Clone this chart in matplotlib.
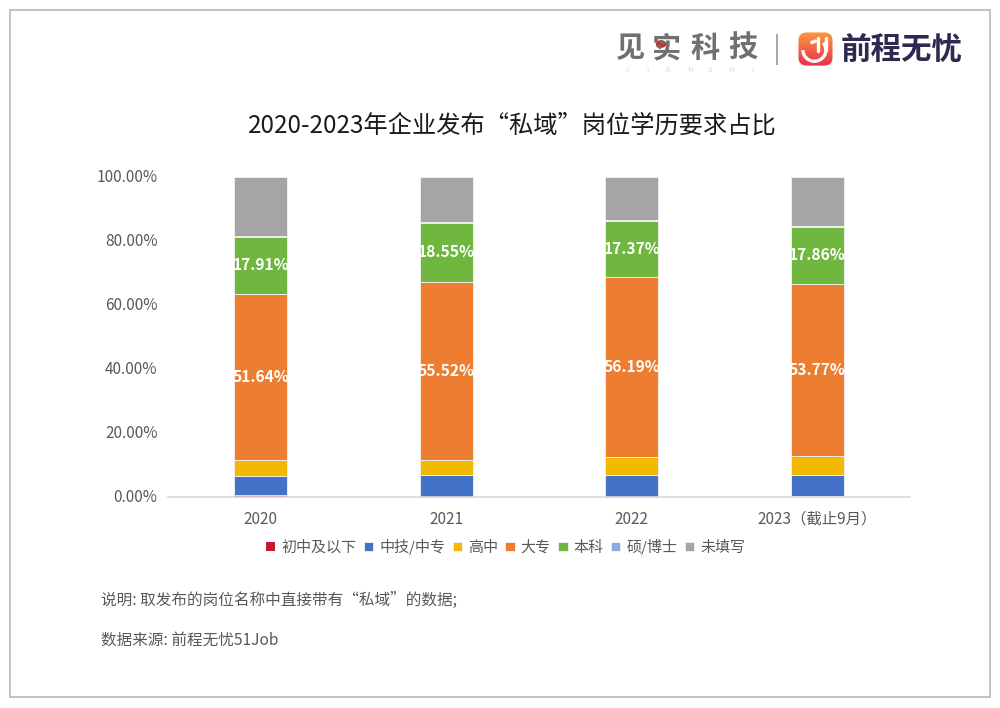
import matplotlib
matplotlib.use('Agg')
import matplotlib.pyplot as plt
import numpy as np
from matplotlib.patches import Rectangle, FancyBboxPatch, Arc, Circle
from matplotlib.ticker import PercentFormatter
from matplotlib.transforms import ScaledTranslation

plt.rcParams['font.family'] = ['Noto Sans CJK SC', 'DejaVu Sans']

years = ['2020', '2021', '2022', '2023（截止9月）']
levels = ['初中及以下', '中技/中专', '高中', '大专', '本科', '硕/博士', '未填写']
colors = ['#C5182C', '#4472C8', '#F2B900', '#ED7D31', '#70B73F', '#8FAADC', '#A5A5A5']

junior = [0.60, 0.15, 0.10, 0.40]
technical = [6.00, 6.70, 6.90, 6.40]
senior = [5.10, 4.70, 5.50, 5.90]
college = [51.64, 55.52, 56.19, 53.77]
bachelor = [17.91, 18.55, 17.37, 17.86]
master = [0.30, 0.30, 0.30, 0.30]
unfilled = [18.45, 13.88, 13.64, 15.37]
series = [junior, technical, senior, college, bachelor, master, unfilled]
labelled = [college, bachelor]

fig = plt.figure(figsize=(10, 7.08), dpi=100)
fig.patch.set_facecolor('white')


def px(x, y):
    # pixel position measured from the top left corner of the figure
    return x / 1000, 1 - y / 708


# Page frame
fig.add_artist(Rectangle(px(10, 697), 0.98, 687 / 708, transform=fig.transFigure,
                         fill=False, edgecolor='#B5B5B5', linewidth=1.2))

# Stacked bars
ax = fig.add_axes([0.168, 1 - 497 / 708, 0.742, 320.5 / 708])
x = np.arange(len(years))
bottom = np.zeros(len(years))
for values, name, color in zip(series, levels, colors):
    edge = 'none' if values is junior else '#F4F4F4'
    bars = ax.bar(x, values, width=0.285, bottom=bottom, color=color, label=name,
                  edgecolor=edge, linewidth=0.6, clip_on=False)
    if any(values is s for s in labelled):
        ax.bar_label(bars, labels=['%.2f%%' % v for v in values], label_type='center',
                     color='white', fontsize=11.2, fontweight='bold')
    bottom += np.array(values)

ax.set_xlim(-0.5, 3.5)
ax.set_ylim(0, 100)
ax.set_xticks(x, years)
ax.set_yticks(np.arange(0, 101, 20))
ax.yaxis.set_major_formatter(PercentFormatter(decimals=2))
ax.tick_params(length=0, labelsize=11.1, labelcolor='#595959')
ax.tick_params(axis='x', pad=10)
ax.tick_params(axis='y', pad=7.5)
# Nudge the percentage labels up a pixel so they sit level with the ticks
for label in ax.get_yticklabels():
    label.set_transform(label.get_transform() + ScaledTranslation(0, 1 / 100, fig.dpi_scale_trans))
for side in ['top', 'left', 'right']:
    ax.spines[side].set_visible(False)
ax.spines['bottom'].set_color('#D9D9D9')
ax.spines['bottom'].set_linewidth(1.2)

ax.legend(loc='center', bbox_to_anchor=(0.455, -0.155), ncols=7, frameon=False,
          fontsize=10.8, labelcolor='#595959', handlelength=0.62, handleheight=0.62,
          handletextpad=0.4, columnspacing=0.5, borderpad=0)

# Title and notes
fig.text(*px(512, 126), '2020-2023年企业发布“私域”岗位学历要求占比', ha='center', va='center',
         fontsize=17.45, color='#1A1A1A')
fig.text(*px(101, 600), '说明: 取发布的岗位名称中直接带有“私域”的数据;', va='center',
         fontsize=11.25, color='#595959')
fig.text(*px(101, 640), '数据来源: 前程无忧51Job', va='center', fontsize=11.25, color='#595959')

# Logos
for cx, ch in zip([630, 667, 705, 743], '见实科技'):
    fig.text(*px(cx, 48), ch, ha='center', va='center', fontsize=21,
             color='#707070', fontweight='bold')
fig.add_artist(Circle(px(661, 44), 0.0045, transform=fig.transFigure, color='#E0201C'))
for cx, ch in zip(np.linspace(627, 752, 7), 'JIANSHI'):
    fig.text(*px(cx, 70), ch, ha='center', va='center', fontsize=5.5, color='#D8D8D8')
fig.add_artist(Rectangle(px(776, 65), 0.002, 31 / 708, transform=fig.transFigure,
                         facecolor='#A8A8A8', edgecolor='none'))

icon = fig.add_axes([797 / 1000, 1 - 67 / 708, 37 / 1000, 36 / 708])
icon.set_xlim(0, 1)
icon.set_ylim(0, 1)
icon.axis('off')
gradient = np.linspace(0, 1, 64)[:, None] * np.array([[0.93, 0.16, 0.32]]) \
    + np.linspace(1, 0, 64)[:, None] * np.array([[0.98, 0.62, 0.24]])
image = icon.imshow(gradient[:, None, :], extent=(0, 1, 0, 1), aspect='auto', interpolation='bilinear')
frame = FancyBboxPatch((0.04, 0.04), 0.92, 0.92, boxstyle='round,pad=0,rounding_size=0.22',
                       transform=icon.transData, facecolor='none', edgecolor='none')
icon.add_patch(frame)
image.set_clip_path(frame)
icon.add_patch(Arc((0.47, 0.47), 0.62, 0.62, theta1=180, theta2=400, color='white', linewidth=2.4))
icon.plot([0.78, 0.78], [0.47, 0.8], color='white', linewidth=2.4, solid_capstyle='round')
icon.plot([0.58, 0.58], [0.45, 0.8], color='white', linewidth=2.4, solid_capstyle='round')
icon.plot([0.4, 0.5], [0.68, 0.72], color='white', linewidth=2.4, solid_capstyle='round')

fig.text(*px(902, 51), '前程无忧', ha='center', va='center', fontsize=22,
         color='#2E2A4F', fontweight='bold')

fig.savefig('out.png', dpi=100)
